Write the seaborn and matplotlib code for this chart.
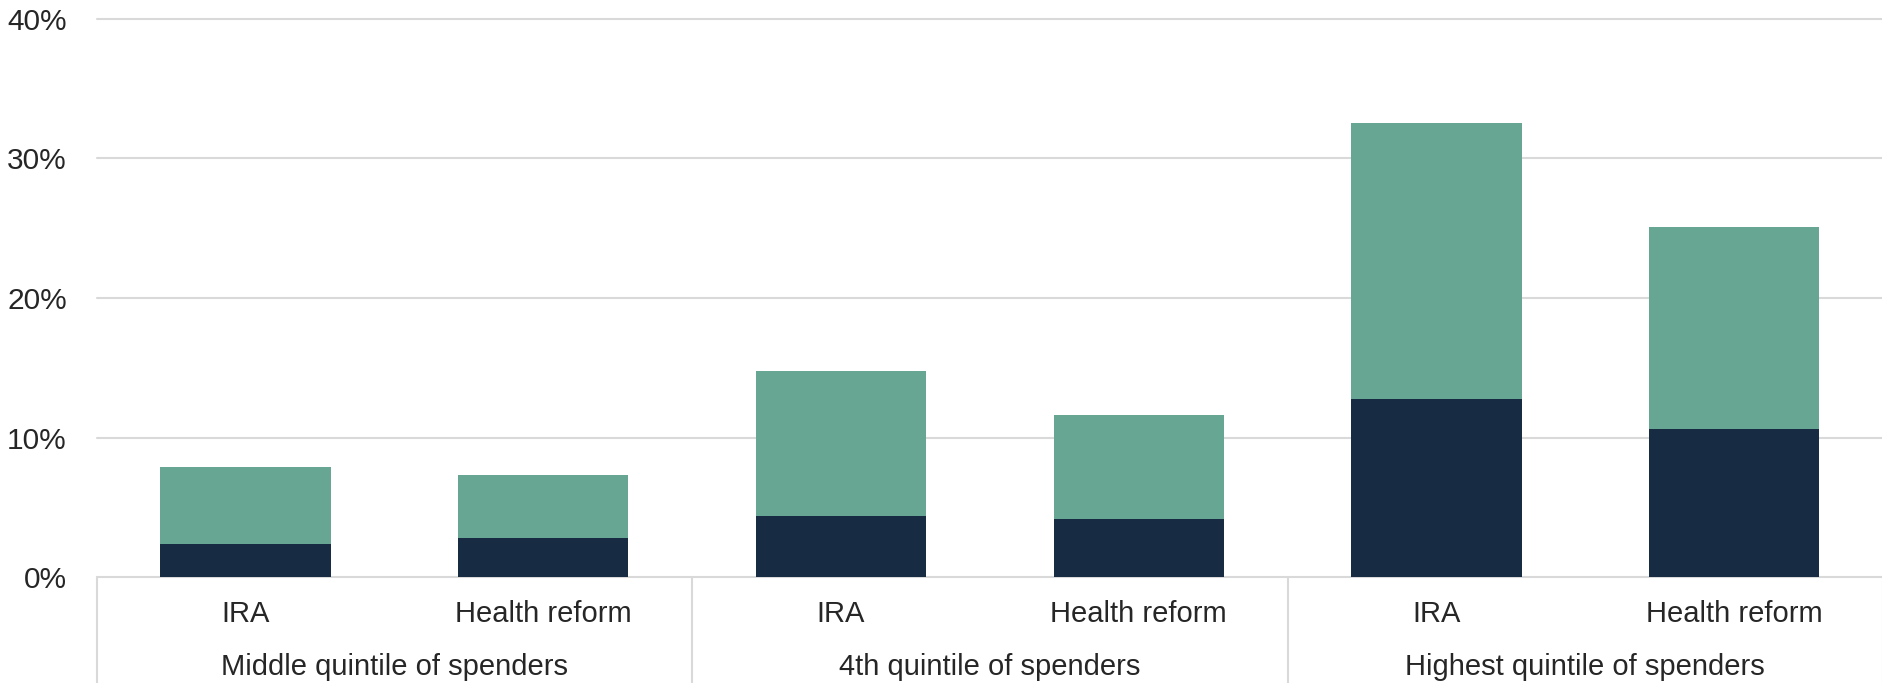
import matplotlib
matplotlib.use("Agg")
import matplotlib.pyplot as plt
import matplotlib.transforms as mtransforms
from matplotlib.ticker import FuncFormatter
import seaborn as sns
import pandas as pd

# Spending groups and the two policy scenarios shown within each
groups = ["Middle quintile of spenders", "4th quintile of spenders", "Highest quintile of spenders"]
scenarios = ["IRA", "Health reform"]

# Stacked components, in percent (lower dark segment and upper teal segment)
lower_share = [2.4, 2.8, 4.4, 4.2, 12.8, 10.6]
upper_share = [5.5, 4.5, 10.35, 7.45, 19.75, 14.45]

y_ticks = [0, 10, 20, 30, 40]

NAVY = "#172B43"
TEAL = "#66A692"
GRID = "#D9D9D9"
TEXT = "#262626"

sns.set_theme(style="white")
plt.rcParams["font.family"] = ["Liberation Sans", "DejaVu Sans"]

keys = [f"{g}|{s}" for g in groups for s in scenarios]
df = pd.DataFrame({
    "key": keys,
    "lower": lower_share,
    "total": [a + b for a, b in zip(lower_share, upper_share)],
})

fig = plt.figure(figsize=(18.83, 6.83), dpi=100)
ax = fig.add_axes([96.7 / 1883, 105.7 / 683, 1 - 96.7 / 1883, 558.6 / 683])

bar_w = 0.572
sns.barplot(data=df, x="key", y="total", order=keys, color=TEAL, width=bar_w,
            saturation=1, linewidth=0, ax=ax)
sns.barplot(data=df, x="key", y="lower", order=keys, color=NAVY, width=bar_w,
            saturation=1, linewidth=0, ax=ax)

ax.set_xlim(-0.5, len(keys) - 0.5)
ax.set_ylim(0, 40)
ax.set_yticks(y_ticks)
ax.yaxis.set_major_formatter(FuncFormatter(lambda v, _: f"{v:.0f}%"))
ax.tick_params(axis="y", length=0, pad=21.5, labelsize=21.5, labelcolor=TEXT)
ax.set_xticks([])
ax.set_xlabel("")
ax.set_ylabel("")
for sp in ax.spines.values():
    sp.set_visible(False)

ax.set_axisbelow(True)
ax.yaxis.grid(True, color=GRID, linewidth=1.5)
for gl in ax.get_ygridlines():
    gl.set_clip_on(False)

# Two-level category axis below the plot
trans = mtransforms.blended_transform_factory(ax.transData, ax.transAxes)
for i, k in enumerate(keys):
    ax.text(i, -0.0806, k.split("|")[1], transform=trans, ha="center", va="baseline",
            fontsize=21, color=TEXT)
n_s = len(scenarios)
for gi, g in enumerate(groups):
    center = gi * n_s + (n_s - 1) / 2
    ax.text(center, -0.175, g, transform=trans, ha="center", va="baseline",
            fontsize=21, color=TEXT)
for b in range(len(groups) + 1):
    xb = b * n_s - 0.5
    ax.plot([xb, xb], [0, -0.2], transform=trans, color=GRID, linewidth=1.5,
            clip_on=False)

fig.savefig("out.png", dpi=100, facecolor="white")
